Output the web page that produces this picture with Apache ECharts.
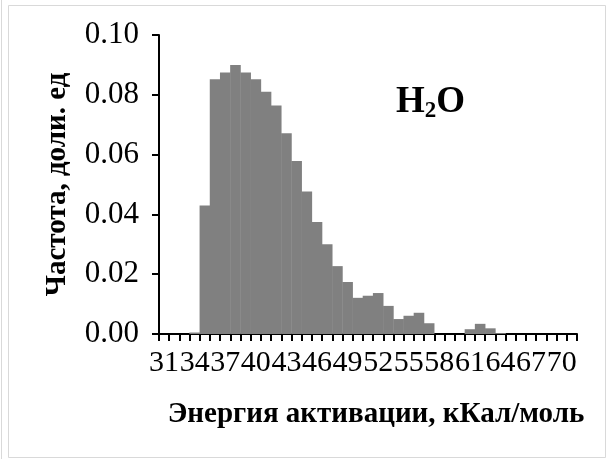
<!DOCTYPE html>
<html>
<head>
<meta charset="utf-8">
<script src="https://cdn.jsdelivr.net/npm/echarts@6/dist/echarts.min.js"></script>
<style>
  html, body { margin: 0; padding: 0; background: #fff; }
  #main { width: 614px; height: 459px; }
</style>
</head>
<body>
<div id="main"></div>
<script>
// энергия активации, 31..71 кКал/моль
const energies = [];
for (let e = 31; e <= 71; e++) energies.push(String(e));

// частота, доли ед.
const freq = [
  0, 0, 0, 0.0005, 0.043, 0.0852, 0.0875, 0.090, 0.0875, 0.0852,
  0.081, 0.0764, 0.0671, 0.0579, 0.0477, 0.0375, 0.030, 0.0227, 0.0174, 0.0121,
  0.0128, 0.0137, 0.0094, 0.005, 0.0061, 0.0071, 0.0036, 0, 0, 0,
  0.0016, 0.0034, 0.0019, 0.0003, 0, 0, 0, 0, 0, 0,
  0
];

const yTicks = [0, 0.02, 0.04, 0.06, 0.08, 0.10];

const font = 'Liberation Serif';
const chart = echarts.init(document.getElementById('main'));

const option = {
  animation: false,
  backgroundColor: '#fff',
  grid: { left: 159, right: 37, top: 35, bottom: 125 },
  xAxis: {
    type: 'category',
    data: energies,
    name: 'Энергия активации, кКал/моль',
    nameLocation: 'middle',
    nameGap: 66,
    nameTextStyle: { fontFamily: font, fontSize: 29, fontWeight: 'bold', color: '#000', padding: [0, 0, 0, 16] },
    axisLine: { lineStyle: { color: '#000', width: 2 } },
    axisTick: { show: true, interval: 0, length: 7, lineStyle: { color: '#000', width: 2 } },
    axisLabel: { interval: 2, margin: 14, fontFamily: font, fontSize: 30, color: '#000' },
    splitLine: { show: false }
  },
  yAxis: {
    type: 'value',
    min: 0,
    max: 0.1,
    interval: 0.02,
    name: 'Частота, доли. ед',
    nameLocation: 'middle',
    nameGap: 87,
    nameTextStyle: { fontFamily: font, fontSize: 29, fontWeight: 'bold', color: '#000' },
    axisLine: { show: true, lineStyle: { color: '#000', width: 2 } },
    axisTick: { show: true, length: 7, lineStyle: { color: '#000', width: 2 } },
    axisLabel: {
      margin: 20, fontFamily: font, fontSize: 31, color: '#000',
      formatter: v => yTicks.includes(Math.round(v * 100) / 100) ? v.toFixed(2) : ''
    },
    splitLine: { show: false }
  },
  series: [{
    type: 'bar',
    data: freq,
    barWidth: '104%',
    itemStyle: { color: '#808080' }
  }],
  graphic: [
    { type: 'rect', shape: { x: 8.5, y: 5.5, width: 597, height: 452 }, style: { fill: null, stroke: '#d9d9d9', lineWidth: 1 } },
    { type: 'line', shape: { x1: 1.5, y1: 0, x2: 1.5, y2: 459 }, style: { stroke: '#d9d9d9', lineWidth: 1 } },
    {
      type: 'text', left: 396, top: 84,
      style: {
        text: '{a|H}{b|2}{a|O}',
        rich: {
          a: { fontFamily: font, fontSize: 37, fontWeight: 'bold', fill: '#000' },
          b: { fontFamily: font, fontSize: 23, fontWeight: 'bold', fill: '#000', padding: [18, 0, 0, 0] }
        }
      }
    }
  ]
};

chart.setOption(option);
</script>
</body>
</html>
